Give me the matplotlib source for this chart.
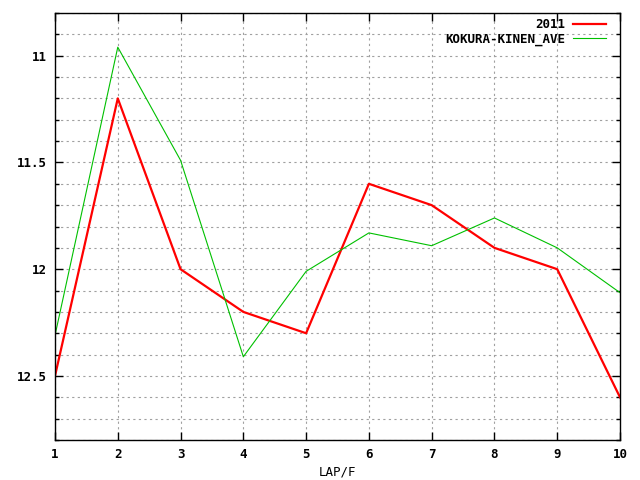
import matplotlib
matplotlib.use("Agg")
import matplotlib.pyplot as plt
from matplotlib.ticker import MultipleLocator

laps = [1, 2, 3, 4, 5, 6, 7, 8, 9, 10]
lap_2011 = [12.5, 11.2, 12.0, 12.2, 12.3, 11.6, 11.7, 11.9, 12.0, 12.6]
lap_ave = [12.31, 10.96, 11.49, 12.41, 12.01, 11.83, 11.89, 11.76, 11.9, 12.11]

plt.rcParams['font.family'] = 'DejaVu Sans Mono'
plt.rcParams['font.weight'] = 'bold'
plt.rcParams['font.size'] = 9

fig = plt.figure(figsize=(6.4, 4.8), dpi=100)
ax = fig.add_axes([55/640, 40/480, 565/640, 427/480])

ax.plot(laps, lap_2011, color='#ff0000', lw=1.6, label='2011')
ax.plot(laps, lap_ave, color='#00c000', lw=0.8, label='KOKURA-KINEN_AVE')

ax.set_xlim(1, 10)
ax.set_ylim(12.8, 10.8)
ax.xaxis.set_major_locator(MultipleLocator(1))
ax.yaxis.set_minor_locator(MultipleLocator(0.1))
ax.set_yticks([11, 11.5, 12, 12.5])
ax.set_yticklabels(['11', '11.5', '12', '12.5'])

ax.grid(True, which='both', color='#a0a0a0', linestyle=(0, (2, 3)), lw=0.8)
ax.tick_params(which='major', direction='in', length=6, top=True, right=True, width=1)
ax.tick_params(which='minor', direction='in', length=3, top=True, right=True, width=1)
ax.tick_params(axis='y', pad=6)
ax.tick_params(axis='x', pad=6)
for s in ax.spines.values():
    s.set_linewidth(1)

ax.set_xlabel('LAP/F', labelpad=3)

ax.legend(loc='upper right', frameon=False, markerfirst=False, handlelength=2.6,
          bbox_to_anchor=(1 - 7/565, 1 + 2/427),
          borderaxespad=0.2, labelspacing=0.1, handletextpad=0.6)

fig.savefig('out.png', dpi=100)
